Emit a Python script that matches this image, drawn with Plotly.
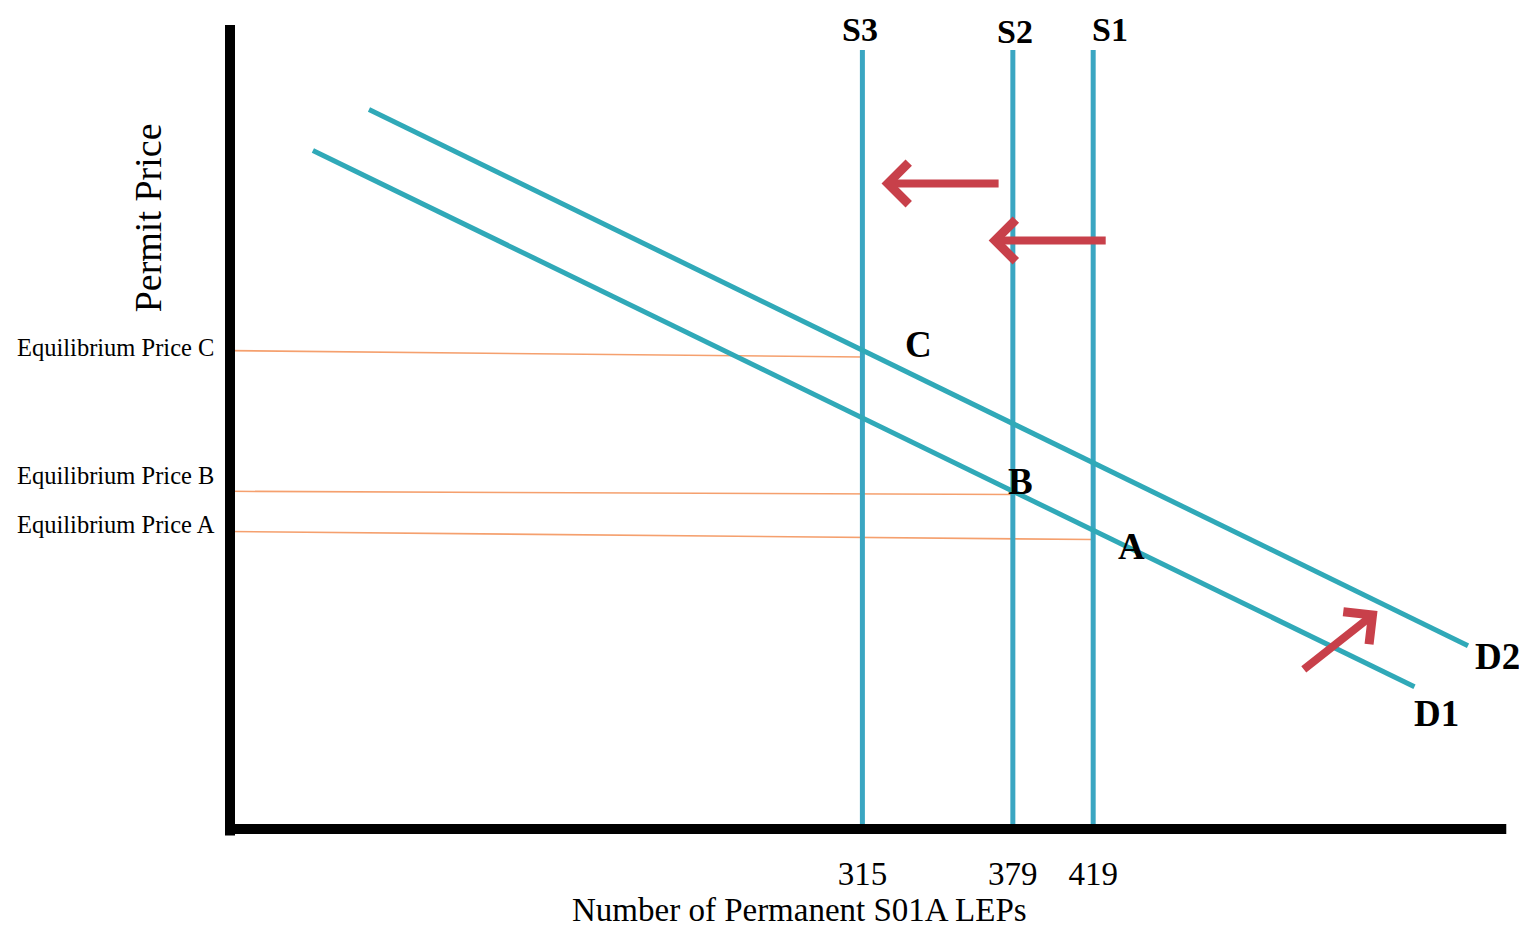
import plotly.graph_objects as go

# ---- data (abstract 0-100 quantity / price scale) ----
supply_names = ["S3", "S2", "S1"]
supply_qty_labels = ["315", "379", "419"]
supply_pos = [49.6, 61.4, 67.7]
supply_top = 96.9

demand_names = ["D1", "D2"]
demand_x = [[6.5, 92.9], [10.9, 97.1]]
demand_y = [[84.4, 17.7], [89.5, 22.8]]

eq_names = ["C", "B", "A"]
eq_price_start = [59.5, 42.0, 37.0]
eq_price_end = [58.7, 41.6, 36.0]
eq_qty = [49.6, 61.4, 67.7]
eq_label_text = ["Equilibrium Price C", "Equilibrium Price B", "Equilibrium Price A"]
eq_label_y = [59.9, 44.0, 37.9]
eq_point_label_x = [54.0, 62.0, 70.7]
eq_point_label_y = [60.3, 43.2, 35.1]

# shift arrows: (tail_x, tail_y, head_x, head_y)
arrows = [(60.4, 80.3, 51.1, 80.3), (68.8, 73.2, 59.5, 73.2), (84.1, 19.7, 90.0, 27.1)]

supply_label_y = [99.5, 99.2, 99.5]
supply_label_x = [49.4, 61.6, 69.0]
demand_label_x = [94.6, 99.4]
demand_label_y = [14.4, 21.4]

SERIF = "Liberation Serif"
TEAL_S = "#3aa6c2"
TEAL_D = "#30a9b8"
ORANGE = "#f5a06e"
RED = "#c8404a"
BOLD_SIZE = 37

fig = go.Figure()

# equilibrium price lines
for i in range(len(eq_names)):
    fig.add_trace(go.Scatter(x=[0, eq_qty[i]], y=[eq_price_start[i], eq_price_end[i]],
                             mode="lines", line=dict(color=ORANGE, width=1.6),
                             hoverinfo="skip", showlegend=False))

# supply lines
for i, n in enumerate(supply_names):
    fig.add_trace(go.Scatter(x=[supply_pos[i], supply_pos[i]], y=[0, supply_top],
                             mode="lines", line=dict(color=TEAL_S, width=5),
                             name=n, showlegend=False))

# demand lines
for i, n in enumerate(demand_names):
    fig.add_trace(go.Scatter(x=demand_x[i], y=demand_y[i], mode="lines",
                             line=dict(color=TEAL_D, width=5), name=n, showlegend=False))

# axes span 0-100 over the full plot domain, so paper = data / 100
def P(v):
    return v / 100.0

def label(x, y, text, size, bold=False, **kw):
    d = dict(x=P(x), y=P(y), xref="paper", yref="paper",
             text=f"<b>{text}</b>" if bold else text, showarrow=False,
             xanchor="center", yanchor="middle",
             font=dict(family=SERIF, size=size, color="black"))
    d.update(kw)
    return d

ann = []
for i, n in enumerate(supply_names):
    ann.append(label(supply_label_x[i], supply_label_y[i], n, 34, bold=True))
for i, n in enumerate(demand_names):
    ann.append(label(demand_label_x[i], demand_label_y[i], n, BOLD_SIZE, bold=True))
for i, n in enumerate(eq_names):
    ann.append(label(eq_point_label_x[i], eq_point_label_y[i], n, BOLD_SIZE, bold=True))
    ann.append(label(-16.9, eq_label_y[i], eq_label_text[i], 24.5, xanchor="left"))
for (tx, ty, hx, hy) in arrows:
    ann.append(dict(x=hx, y=hy, ax=tx, ay=ty, xref="x", yref="y", axref="x", ayref="y",
                    text="", showarrow=True, arrowhead=4, arrowsize=1, arrowwidth=8,
                    arrowcolor=RED))
ann.append(label(44.7, -10.1, "Number of Permanent S01A LEPs", 33))
ann.append(label(-6.4, 76.0, "Permit Price", 38, textangle=-90))

fig.update_layout(
    width=1519, height=920,
    margin=dict(l=222, r=22, t=17, b=99),
    paper_bgcolor="white", plot_bgcolor="white",
    annotations=ann,
    shapes=[
        dict(type="line", xref="paper", yref="paper", x0=0, x1=0, y0=-0.008, y1=1,
             line=dict(color="black", width=10)),
        dict(type="line", xref="paper", yref="paper", x0=-0.003, x1=1.001, y0=0, y1=0,
             line=dict(color="black", width=10)),
    ],
    xaxis=dict(range=[0, 100], showgrid=False, zeroline=False, showline=False,
               tickmode="array", tickvals=supply_pos, ticktext=supply_qty_labels,
               ticks="", tickfont=dict(family=SERIF, size=33, color="black"),
               ticklabelstandoff=22),
    yaxis=dict(range=[0, 100], showgrid=False, zeroline=False, showline=False,
               showticklabels=False, ticks=""),
)

fig.write_html("out.html")
